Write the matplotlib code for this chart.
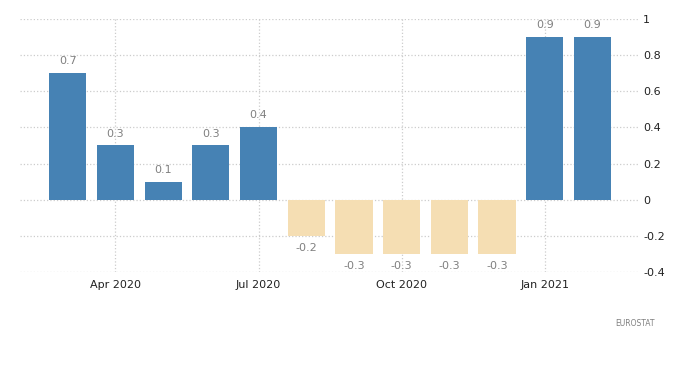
import numpy as np
import matplotlib
matplotlib.use("Agg")
from matplotlib import pyplot as plt

# monthly change, Mar 2020 .. Feb 2021
months = ["Mar 2020", "Apr 2020", "May 2020", "Jun 2020", "Jul 2020", "Aug 2020",
          "Sep 2020", "Oct 2020", "Nov 2020", "Dec 2020", "Jan 2021", "Feb 2021"]
values = [0.7, 0.3, 0.1, 0.3, 0.4, -0.2, -0.3, -0.3, -0.3, -0.3, 0.9, 0.9]
tick_months = ["Apr 2020", "Jul 2020", "Oct 2020", "Jan 2021"]
y_ticks = [-0.4, -0.2, 0, 0.2, 0.4, 0.6, 0.8, 1]

POS_COLOR = "#4682b4"
NEG_COLOR = "#f5deb3"

plt.rcParams['font.family'] = ['DejaVu Sans']

fig = plt.figure(figsize=(7, 3.65), dpi=100)
ax = fig.add_axes([0.0286, 0.2548, 0.8825, 0.6932])

x = np.arange(len(months))
colors = [POS_COLOR if v >= 0 else NEG_COLOR for v in values]
ax.bar(x, values, width=0.78, color=colors, zorder=3)

# value labels
for xi, v in zip(x, values):
    if v >= 0:
        ax.annotate(f"{v:g}", (xi, v), xytext=(0, 5), textcoords="offset points",
                    ha="center", va="bottom", fontsize=8, color="#808080")
    else:
        ax.annotate(f"{v:g}", (xi, v), xytext=(0, -5), textcoords="offset points",
                    ha="center", va="top", fontsize=8, color="#808080")

ax.set_xlim(-1.0, 11.95)
ax.set_ylim(-0.4, 1.0)

ax.set_xticks([months.index(m) for m in tick_months])
ax.set_xticklabels(tick_months)
ax.set_yticks(y_ticks)
ax.set_yticklabels([f"{t:g}" for t in y_ticks])
ax.yaxis.tick_right()
ax.tick_params(axis="both", length=0, labelsize=8, colors="#222222")
ax.tick_params(axis="y", pad=4)
ax.tick_params(axis="x", pad=6)

ax.grid(True, color="#cccccc", linestyle=":", linewidth=0.9, zorder=0)
for s in ax.spines.values():
    s.set_visible(False)

fig.text(0.936, 0.115, "EUROSTAT", ha="right", va="center", fontsize=5.5, color="#808080")

fig.savefig("out.png", dpi=100)
